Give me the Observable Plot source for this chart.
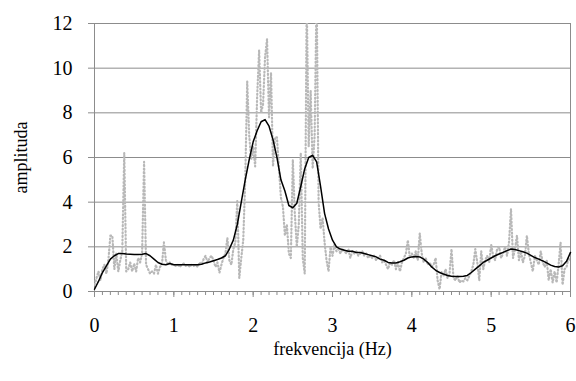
<!DOCTYPE html>
<html><head><meta charset="utf-8">
<script src="https://cdn.jsdelivr.net/npm/d3@7"></script>
<script src="https://cdn.jsdelivr.net/npm/@observablehq/plot@0.6"></script>
<style>body{margin:0;background:#fff} svg text{font-family:"Liberation Serif","Times New Roman",serif !important;}</style>
</head><body><div id="chart"></div>
<script>
// raw spectrum, sampled every 0.025 Hz from 0 to 6 Hz
const rawStep = 0.025;
const rawAmplitude = [
  0.3,0.6,0.9,0.5,1.0,1.2,0.8,1.4,2.5,2.5,1.0,1.7,0.9,1.4,1.8,6.2,0.9,1.0,1.3,0.9,1.25,
  0.9,1.5,1.3,1.7,5.8,1.2,1.0,0.8,0.9,0.8,1.2,0.8,1.1,1.2,2.2,1.4,1.2,1.3,1.2,1.2,
  1.15,1.2,1.1,1.2,1.25,1.15,1.2,1.1,1.2,1.15,1.2,1.1,1.3,1.2,1.45,1.6,1.3,1.5,1.6,1.4,
  1.1,1.3,0.85,1.2,1.5,1.7,2.4,1.4,1.2,1.9,2.2,4.1,0.6,1.5,2.3,5.0,9.4,7.0,5.9,6.5,
  5.6,8.7,10.8,8.0,8.4,10.5,11.3,7.8,9.8,5.6,6.9,6.9,5.5,4.2,3.8,2.5,3.0,1.7,1.5,5.9,
  3.5,2.0,3.0,6.2,1.5,0.8,13,6.5,9,5.5,7,13.5,4.0,2.8,3.3,2.2,1.4,0.9,2.0,1.6,
  2.1,1.8,1.9,1.7,1.9,1.8,1.7,1.9,1.5,1.8,1.7,1.8,1.6,1.7,1.8,1.6,1.7,1.5,1.6,1.5,
  1.6,1.4,1.5,1.6,1.3,1.4,1.2,1.0,1.3,1.2,1.4,1.0,1.3,0.9,1.3,1.5,1.7,2.3,1.5,1.7,
  1.5,1.8,1.4,2.6,1.7,1.3,1.5,1.2,1.3,1.1,1.2,1.5,0.5,0.1,0.9,0.7,1.0,0.6,0.8,1.9,
  0.6,0.5,0.7,0.4,0.5,0.45,0.6,0.5,0.7,0.9,1.2,1.9,1.3,0.5,1.8,1.0,1.4,1.6,1.3,2.1,
  1.6,1.4,1.9,2.0,1.5,1.7,2.0,1.6,2.2,3.7,1.5,1.9,2.5,1.4,1.8,1.3,1.6,2.5,1.7,1.3,
  0.9,1.6,1.4,1.2,1.8,1.3,1.1,1.4,0.5,1.0,0.4,0.9,0.4,1.2,2.2,0.3,1.0,1.1,1.5,1.4
];
// smoothed spectrum, sampled every 0.05 Hz from 0 to 6 Hz
const smoothStep = 0.05;
const smoothAmplitude = [
  0.1,0.45,0.85,1.15,1.45,1.6,1.7,1.7,1.68,1.67,1.66,
  1.66,1.67,1.7,1.6,1.45,1.3,1.22,1.2,1.25,1.2,
  1.2,1.2,1.2,1.2,1.2,1.2,1.22,1.28,1.32,1.38,
  1.43,1.5,1.6,1.9,2.3,3.0,4.0,5.0,5.9,6.7,
  7.2,7.6,7.7,7.4,6.8,6.0,5.0,4.5,3.85,3.75,
  3.95,4.7,5.5,6.0,6.1,5.8,4.7,3.5,2.8,2.3,
  2.0,1.9,1.85,1.8,1.8,1.75,1.75,1.7,1.65,1.6,
  1.55,1.45,1.4,1.3,1.28,1.28,1.33,1.4,1.5,1.55,
  1.57,1.55,1.45,1.3,1.1,0.95,0.85,0.78,0.72,0.68,
  0.67,0.67,0.68,0.72,0.85,1.0,1.15,1.3,1.4,1.5,
  1.6,1.68,1.75,1.83,1.9,1.88,1.83,1.78,1.72,1.62,
  1.52,1.45,1.37,1.28,1.18,1.12,1.1,1.15,1.35,1.75
];
const xTicks = [0,1,2,3,4,5,6];
const xMinorTicks = d3.range(0,61).map(i => i/10);
const yTicks = [0,2,4,6,8,10,12];
const xLabel = "frekvencija (Hz)";
const yLabel = "amplituda";

const raw = rawAmplitude.map((a,i) => ({f: i*rawStep, a}));
const smooth = smoothAmplitude.map((a,i) => ({f: i*smoothStep, a}));

const chart = Plot.plot({
  width: 576, height: 381,
  marginLeft: 94, marginRight: 6, marginTop: 23, marginBottom: 90,
  style: {fontFamily: "Liberation Serif", fontSize: "18px", color: "#000", background: "#fff"},
  x: {domain: [0, 6]},
  y: {domain: [0, 12]},
  marks: [
    Plot.gridY(yTicks, {stroke: "#8c8c8c", strokeOpacity: 1}),
    Plot.frame({stroke: "#8c8c8c"}),
    Plot.axisY(yTicks, {tickSize: 6, tickPadding: 16, stroke: "#8c8c8c", label: null}),
    Plot.axisY([], {label: yLabel, labelAnchor: "center", labelArrow: "none", labelOffset: 80, fill: "#000"}),
    Plot.axisX(xMinorTicks, {tickSize: 4, tickFormat: () => "", stroke: "#8c8c8c", label: null}),
    Plot.axisX(xTicks, {tickSize: 6, tickPadding: 20, stroke: "#8c8c8c", label: null}),
    Plot.axisX([], {label: xLabel, labelAnchor: "center", labelArrow: "none", labelOffset: 63, fill: "#000"}),
    Plot.line(raw, {x: "f", y: "a", stroke: "#b8b8b8", strokeWidth: 2.2, strokeDasharray: "1,2.6", strokeLinecap: "round", clip: true}),
    Plot.line(smooth, {x: "f", y: "a", stroke: "#000", strokeWidth: 1.5})
  ]
});
// text sizes like the reference: larger tick numbers, slightly smaller titles
chart.querySelectorAll('g[aria-label$="tick label"]').forEach(g => {
  g.style.fontSize = "20px";
  g.querySelectorAll("text").forEach(t => t.style.fontSize = "20px");
});
chart.querySelectorAll('g[aria-label$="axis label"]').forEach(g => {
  g.style.fontSize = "18px";
  g.querySelectorAll("text").forEach(t => t.style.fontSize = "18px");
});
document.getElementById("chart").appendChild(chart);
</script>
</body></html>
